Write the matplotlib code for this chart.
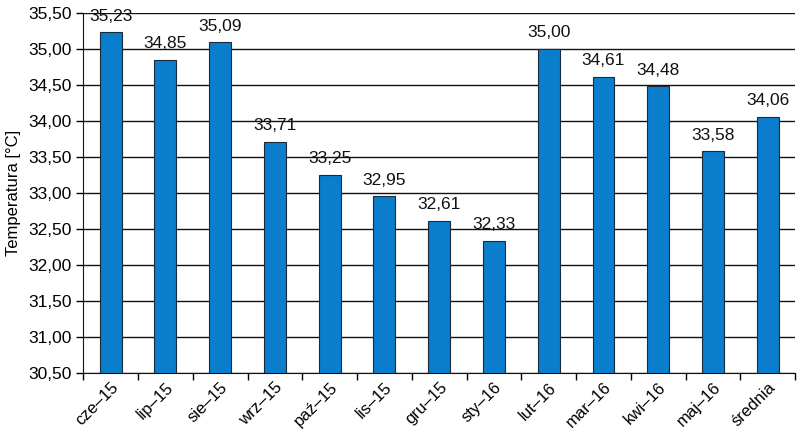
import matplotlib
matplotlib.use("Agg")
import matplotlib.pyplot as plt
from matplotlib import font_manager

names = {f.name for f in font_manager.fontManager.ttflist}
fam = "Liberation Sans Narrow" if "Liberation Sans Narrow" in names else "Liberation Sans"
plt.rcParams['font.family'] = [fam, 'DejaVu Sans']

categories = ["cze–15", "lip–15", "sie–15", "wrz–15", "paź–15", "lis–15", "gru–15",
              "sty–16", "lut–16", "mar–16", "kwi–16", "maj–16", "średnia"]
values = [35.23, 34.85, 35.09, 33.71, 33.25, 32.95, 32.61, 32.33, 35.00, 34.61, 34.48, 33.58, 34.06]
yticks = [30.5, 31.0, 31.5, 32.0, 32.5, 33.0, 33.5, 34.0, 34.5, 35.0, 35.5]

fig = plt.figure(figsize=(8, 4.33), dpi=100)
ax = fig.add_axes([0.104, 0.139, 0.89, 0.831])

x = list(range(len(categories)))
base = 30.5
ax.bar(x, [v - base for v in values], bottom=base, width=0.4, color="#0a7dcc",
       edgecolor="#1a2a3a", linewidth=0.8, zorder=3)
for xi, v in zip(x, values):
    ax.text(xi, v + 0.12, f"{v:.2f}".replace(".", ","), ha="center", va="bottom",
            fontsize=12.5, color="#111111", zorder=4)

ax.set_ylim(30.5, 35.5)
ax.set_xlim(-0.5, len(categories) - 0.5)
ax.set_yticks(yticks)
ax.set_yticklabels([f"{t:.2f}".replace(".", ",") for t in yticks], fontsize=12.5)
ax.yaxis.grid(True, color="#111111", linewidth=1.0, zorder=0)
ax.set_axisbelow(True)

ax.set_xticks(x)
ax.set_xticklabels(categories, rotation=45, ha="right", rotation_mode="anchor", fontsize=12)
ax.tick_params(axis="x", length=0, pad=5)
ax.set_xticks([i + 0.5 for i in range(-1, len(categories))], minor=True)
ax.tick_params(axis="x", which="minor", length=5, width=1, direction="out")
ax.tick_params(axis="y", length=5, width=1, direction="out")

for s in ["top", "right"]:
    ax.spines[s].set_visible(False)
ax.spines["left"].set_color("#111111")
ax.spines["bottom"].set_color("#111111")

ax.set_ylabel("Temperatura [°C]", fontsize=12)
ax.yaxis.set_label_coords(-0.088, 0.5)

fig.savefig("out.png", dpi=100)
